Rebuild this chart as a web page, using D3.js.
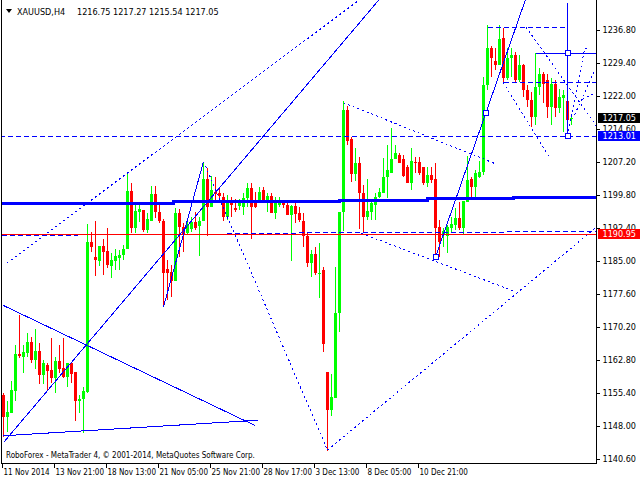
<!DOCTYPE html>
<html><head><meta charset="utf-8">
<script src="https://cdn.jsdelivr.net/npm/d3@7"></script>
<style>
html,body{margin:0;padding:0;background:#fff;overflow:hidden}
text{font-family:"DejaVu Sans Condensed","DejaVu Sans",sans-serif;font-stretch:condensed}
</style>
</head><body>
<svg id="c" width="640" height="480"></svg>
<script>
// ---------- data ----------
const symbol = "XAUUSD,H4";
const opens = [1155.0,1150.1,1151.0,1155.9,1164.1,1163.4,1164.4,1166.8,1162.8,1164.8,1159.4,1161.7,1160.6,1158.7,1162.6,1160.9,1159.1,1162.1,1160.0,1153.7,
1154.0,1155.7,1189.3,1186.0,1185.1,1188.4,1187.3,1183.9,1185.1,1185.6,1186.3,1187.6,1200.7,1192.5,1196.1,1196.4,1192.0,1194.0,1200.0,1196.1,
1194.0,1183.2,1182.6,1180.6,1195.7,1192.6,1191.2,1192.2,1193.7,1192.8,1194.0,1203.5,1197.2,1200.5,1200.3,1199.3,1194.9,1198.5,1196.8,1197.3,
1197.2,1199.1,1201.3,1198.3,1198.3,1200.9,1198.1,1199.6,1195.8,1197.6,1197.9,1197.6,1195.3,1197.3,1195.7,1194.0,1190.5,1184.6,1186.6,1182.0,
1183.0,1160.2,1151.6,1154.3,1173.3,1195.9,1218.9,1212.3,1204.4,1207.0,1200.2,1194.9,1196.1,1197.6,1199.4,1200.2,1203.8,1204.8,1207.8,1208.8,
1207.8,1206.1,1202.4,1207.3,1207.3,1206.1,1202.4,1204.2,1203.5,1192.7,1190.8,1190.5,1192.3,1193.1,1194.6,1192.3,1198.3,1203.5,1201.7,1203.8,
1205.0,1224.5,1232.8,1229.8,1229.0,1234.9,1226.1,1230.6,1231.3,1225.6,1229.0,1223.3,1221.1,1217.4,1224.1,1226.9,1225.6,1219.6,1224.8,1219.2,
1221.5,1220.9,1216.75];
const highs = [1155.4,1153.6,1158.2,1166.2,1172.9,1166.2,1168.8,1168.0,1169.7,1166.7,1162.8,1162.2,1167.7,1163.5,1166.2,1167.7,1162.2,1162.4,1160.2,1155.0,
1156.8,1193.3,1191.6,1194.0,1188.4,1189.9,1192.3,1186.7,1187.6,1187.5,1188.6,1204.5,1202.6,1197.9,1197.7,1196.4,1195.7,1201.8,1201.8,1198.0,
1194.4,1185.2,1184.1,1196.8,1196.6,1193.5,1194.6,1194.9,1196.1,1194.9,1207.3,1205.8,1204.1,1203.9,1201.7,1200.3,1199.8,1199.4,1198.8,1198.8,
1200.2,1202.6,1202.4,1200.5,1201.7,1201.5,1200.2,1200.3,1199.4,1199.4,1198.7,1198.3,1197.6,1198.3,1197.2,1195.8,1191.6,1187.5,1188.2,1189.0,
1183.7,1160.2,1159.6,1183.7,1196.1,1220.9,1219.8,1212.9,1210.3,1208.4,1202.0,1203.5,1198.7,1200.3,1201.3,1208.0,1211.0,1214.8,1211.0,1209.2,
1208.8,1206.5,1210.3,1208.4,1208.4,1206.1,1206.1,1206.1,1207.0,1194.2,1192.3,1193.1,1194.9,1196.8,1198.3,1198.5,1208.5,1203.9,1205.4,1207.5,
1226.2,1237.9,1233.3,1232.7,1237.9,1237.2,1232.8,1232.7,1231.9,1231.2,1229.1,1224.5,1223.0,1231.6,1228.2,1227.3,1226.9,1226.1,1225.6,1223.6,
1223.3,1223.3,1217.27];
const lows = [1145.5,1146.7,1151.0,1153.5,1163.2,1159.8,1163.4,1162.2,1160.7,1157.4,1157.4,1156.1,1157.7,1155.5,1159.8,1158.7,1156.8,1157.7,1149.2,1151.0,
1146.4,1155.3,1187.1,1181.6,1183.9,1181.9,1183.4,1181.1,1183.0,1183.0,1185.2,1187.6,1191.3,1191.3,1193.8,1191.6,1191.2,1194.0,1194.6,1193.6,
1174.7,1176.3,1177.0,1180.6,1186.0,1187.1,1190.8,1191.6,1192.0,1186.1,1194.0,1190.6,1197.2,1198.7,1197.9,1194.0,1194.2,1194.9,1196.1,1196.4,
1195.3,1197.2,1189.9,1196.9,1198.0,1197.9,1196.1,1195.7,1194.4,1197.2,1196.8,1195.3,1185.0,1193.6,1193.8,1188.1,1183.7,1181.4,1181.9,1176.8,
1164.7,1142.4,1150.3,1154.3,1169.0,1191.7,1211.0,1202.8,1202.9,1192.1,1191.2,1194.2,1194.2,1194.2,1199.1,1200.2,1199.1,1204.8,1207.8,1206.9,
1203.9,1202.4,1200.9,1204.7,1204.3,1202.0,1201.7,1202.4,1185.9,1186.0,1188.2,1186.7,1191.2,1192.0,1192.0,1190.8,1198.3,1199.4,1199.4,1203.6,
1204.3,1223.3,1226.3,1227.8,1229.0,1225.2,1225.6,1226.3,1225.2,1225.2,1221.8,1219.6,1215.1,1215.5,1222.2,1220.4,1217.0,1215.5,1217.4,1218.1,
1214.0,1213.01,1215.54];
const closes = [1150.0,1151.2,1156.1,1164.1,1163.7,1164.7,1166.8,1162.8,1164.8,1159.4,1162.1,1160.4,1158.7,1162.6,1160.8,1159.1,1162.1,1159.7,1153.7,1154.1,
1155.9,1189.3,1188.2,1185.2,1188.4,1187.1,1184.1,1185.2,1186.1,1186.3,1187.7,1200.7,1192.5,1196.2,1196.6,1192.0,1194.4,1200.0,1196.1,1194.0,
1182.2,1182.2,1180.6,1195.7,1192.6,1190.8,1193.3,1193.8,1192.3,1194.0,1203.5,1197.2,1200.9,1200.0,1199.6,1194.9,1197.9,1197.6,1196.4,1198.5,
1199.1,1201.4,1197.2,1197.2,1200.5,1198.3,1199.6,1195.8,1198.7,1198.5,1197.6,1195.3,1197.3,1195.5,1194.2,1190.5,1184.6,1186.6,1182.2,1182.4,
1166.5,1151.6,1154.6,1173.3,1196.1,1218.9,1211.8,1204.4,1206.9,1200.2,1194.9,1196.3,1198.1,1199.4,1200.5,1203.9,1205.4,1207.8,1209.2,1207.0,
1204.1,1202.4,1207.5,1207.0,1204.7,1202.4,1204.3,1203.2,1192.3,1189.3,1191.8,1192.6,1193.2,1194.6,1192.3,1198.5,1203.2,1201.7,1204.7,1205.0,
1224.5,1232.8,1230.6,1229.0,1234.8,1226.1,1230.5,1231.3,1225.6,1229.0,1223.3,1221.1,1217.4,1224.1,1226.9,1224.8,1219.6,1224.8,1219.2,1221.8,
1222.2,1216.6,1217.05];

const yTickValues = [1236.80,1229.40,1222.00,1214.60,1207.20,1199.80,1192.40,1185.00,1177.60,1170.20,1162.80,1155.40,1148.00,1140.60];
const xTickBars = [0,13,26,39,52,65,78,91,104];
const xTickLabels = ["11 Nov 2014","13 Nov 21:00","18 Nov 13:00","21 Nov 05:00","25 Nov 21:00","28 Nov 17:00","3 Dec 13:00","8 Dec 05:00","10 Dec 21:00"];

const markerPrices = [1217.05, 1213.01, 1190.95];

// chart objects, in (bar index, price)
const solidLines = [
  [[0,1144.3],[93.8,1243.5]],
  [[40,1174.7],[50,1207.3]],
  [[108,1185.9],[130.45,1243.5]],
  [[-0.2,1175.1],[62.9,1148.1]],
  [[-0.2,1145.8],[63.7,1149.3]],
  [[133,1231.6],[149,1231.6]],
  [[141,1242.9],[141,1213.01]]
];
const dottedLines = [
  [[0.8,1184.5],[88.9,1243.5]],
  [[50.5,1206.3],[81,1142.6]],
  [[81,1142.6],[148.4,1192.7]],
  [[85,1220.5],[123,1206.8]],
  [[89.5,1191.2],[128,1178.1]],
  [[124.9,1225.1],[136.6,1208.1]],
  [[130.6,1237.5],[148.6,1214.8]],
  [[141,1213.0],[145.3,1232.7]],
  [[145.3,1232.7],[146.2,1232.7]],
  [[142.8,1217.8],[147.8,1227.8]],
  [[143.6,1220.7],[148.6,1223.0]]
];
const dashedLines = [
  [[-0.5,1190.8],[18.6,1190.8]],
  [[55.9,1191.2],[148.4,1191.6]],
  [[121,1237.4],[140.4,1237.4]],
  [[125,1225.1],[149,1225.1]],
  [[-1,1213.01],[149,1213.01]]
];
const redLevel = 1190.95;
const stepBars = [-1, 42.4, 84.1, 105.9, 127.4, 149];
const stepLevels = [1197.95, 1198.35, 1198.6, 1199.0, 1199.2, 1199.2];
const squarePoints = [[108,1185.9],[120.5,1218.2],[141,1231.6],[141,1213.01]];

// ---------- drawing ----------
const svg = d3.select("#c");
const PL = 2, PR = 596, PB = 463;
const x = d3.scaleLinear().domain([0,148.25]).range([3.5,596.5]);
const y = d3.scaleLinear().domain([1140.6,1236.8]).range([459,30]);
const BLUE = "#0000ff", GREEN = "#00ff00", RED = "#ff0000";

svg.append("rect").attr("width",640).attr("height",480).attr("fill","#fff");
svg.append("clipPath").attr("id","clip").append("rect")
  .attr("x",PL).attr("y",0).attr("width",PR-PL).attr("height",PB);

const plot = svg.append("g").attr("clip-path","url(#clip)").attr("shape-rendering","crispEdges");

// candles
const idx = d3.range(opens.length);
const cg = plot.append("g");
cg.selectAll("line.w").data(idx).join("line")
  .attr("x1",i=>x(i)).attr("x2",i=>x(i))
  .attr("y1",i=>y(highs[i])).attr("y2",i=>y(lows[i]))
  .attr("stroke",i=>closes[i]>=opens[i]?GREEN:RED).attr("stroke-width",1);
cg.selectAll("rect.b").data(idx).join("rect")
  .attr("x",i=>x(i)-1.5).attr("width",3)
  .attr("y",i=>y(Math.max(opens[i],closes[i])))
  .attr("height",i=>Math.max(1,Math.abs(y(opens[i])-y(closes[i]))))
  .attr("fill",i=>closes[i]>=opens[i]?GREEN:RED);

const seg = d3.line().x(d=>x(d[0])).y(d=>y(d[1]));

// thick stepped line
plot.append("path").datum(stepBars.map((b,k)=>[b,stepLevels[k]]))
  .attr("d",d3.line().x(d=>x(d[0])).y(d=>y(d[1])).curve(d3.curveStepAfter))
  .attr("fill","none").attr("stroke",BLUE).attr("stroke-width",3);

// red level
plot.append("path").datum([[-1,redLevel],[149,redLevel]]).attr("d",seg)
  .attr("fill","none").attr("stroke",RED).attr("stroke-width",1);

plot.selectAll("path.dash").data(dashedLines).join("path").attr("class","dash")
  .attr("d",seg).attr("fill","none").attr("stroke",BLUE).attr("stroke-width",1)
  .attr("stroke-dasharray","5,3");
plot.selectAll("path.dot").data(dottedLines).join("path").attr("class","dot")
  .attr("d",seg).attr("fill","none").attr("stroke",BLUE).attr("stroke-width",1)
  .attr("stroke-dasharray","2,3");
plot.selectAll("path.solid").data(solidLines).join("path").attr("class","solid")
  .attr("d",seg).attr("fill","none").attr("stroke",BLUE).attr("stroke-width",1);
plot.selectAll("rect.sq").data(squarePoints).join("rect").attr("class","sq")
  .attr("x",d=>Math.round(x(d[0]))-2.5).attr("y",d=>Math.round(y(d[1]))-2.5)
  .attr("width",5).attr("height",5).attr("fill","#fff").attr("stroke",BLUE);

// frame
const frame = svg.append("g").attr("stroke","#000").attr("shape-rendering","crispEdges");
frame.append("line").attr("x1",1.5).attr("x2",1.5).attr("y1",0).attr("y2",PB+0.5);
frame.append("line").attr("x1",596.5).attr("x2",596.5).attr("y1",0).attr("y2",PB+0.5);
frame.append("line").attr("x1",1.5).attr("x2",596.5).attr("y1",PB+0.5).attr("y2",PB+0.5);

// y axis
const ya = svg.append("g").attr("transform","translate(596.5,0)")
  .call(d3.axisRight(y).tickValues(yTickValues).tickFormat(d3.format(".2f")).tickSize(3).tickPadding(3));
ya.select(".domain").remove();
ya.selectAll("line").attr("stroke","#000").attr("shape-rendering","crispEdges");
ya.selectAll("text").attr("font-size",9).attr("fill","#000")
  .style("font-family",'"DejaVu Sans Condensed","DejaVu Sans",sans-serif');

// x axis
const xa = svg.append("g").attr("transform",`translate(-1.5,${PB+0.5})`)
  .call(d3.axisBottom(x).tickValues(xTickBars).tickFormat((d,i)=>xTickLabels[i]).tickSize(4).tickPadding(2));
xa.select(".domain").remove();
xa.selectAll("line").attr("stroke","#000").attr("shape-rendering","crispEdges");
xa.selectAll("text").attr("text-anchor","start").attr("dx",1).attr("font-size",8).attr("fill","#000")
  .style("font-family",'"DejaVu Sans Condensed","DejaVu Sans",sans-serif');

// price markers
const markerFill = ["#000000", BLUE, RED];
const mk = svg.append("g");
markerPrices.forEach((v,k)=>{
  const yy = Math.round(y(v));
  mk.append("rect").attr("x",598).attr("y",yy-5).attr("width",42).attr("height",10)
    .attr("fill",markerFill[k]).attr("shape-rendering","crispEdges");
  mk.append("text").attr("x",602.5).attr("y",yy).attr("dy","0.34em")
    .attr("font-size",9).attr("fill","#fff").text(d3.format(".2f")(v));
});

// title
svg.append("path").attr("d","M6,9 L12,9 L9,13 Z").attr("fill","#000");
svg.append("text").attr("x",17).attr("y",14.5).attr("font-size",9).attr("fill","#000").text(symbol);
svg.append("text").attr("x",77).attr("y",14.5).attr("font-size",9).attr("fill","#000")
  .text([opens[opens.length-1],highs[highs.length-1],lows[lows.length-1],closes[closes.length-1]].map(d3.format(".2f")).join(" "));

// footer
svg.append("text").attr("x",6).attr("y",458).attr("font-size",8).attr("fill","#000")
  .text("RoboForex - MetaTrader 4, © 2001-2014, MetaQuotes Software Corp.");
</script>
</body></html>
